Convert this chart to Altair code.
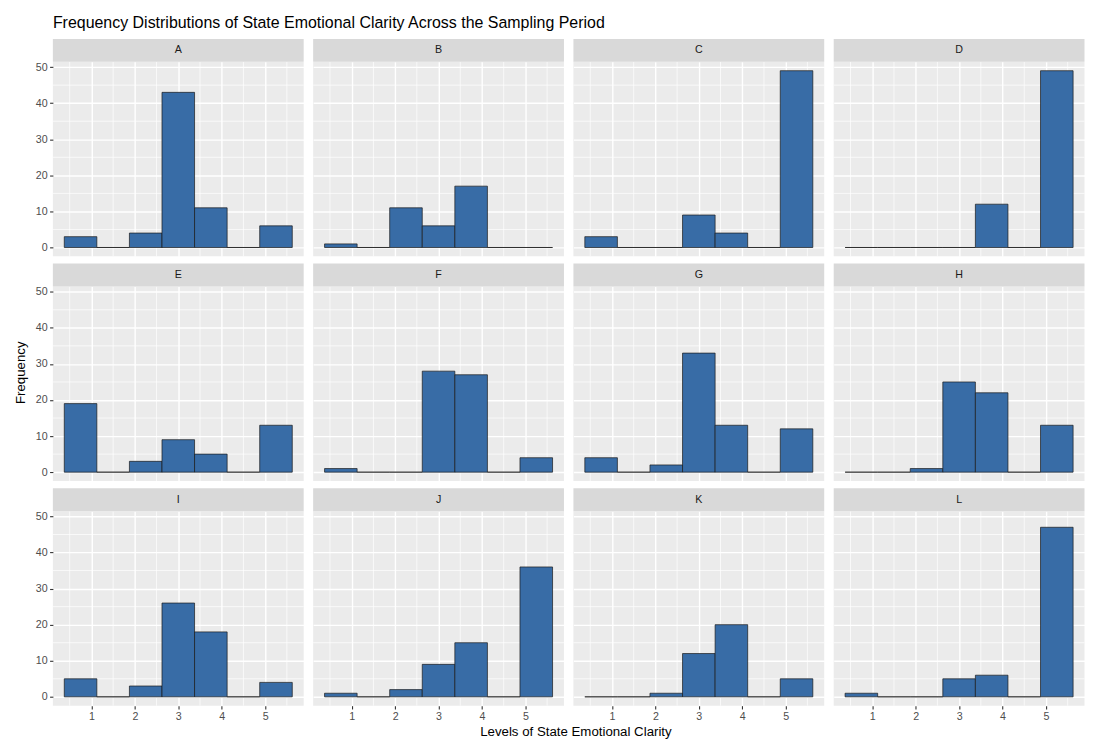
import altair as alt
import pandas as pd

# ---- data ----
panels = ["A", "B", "C", "D", "E", "F", "G", "H", "I", "J", "K", "L"]
bin_start = [0.375, 1.125, 1.875, 2.625, 3.375, 4.125, 4.875]
bin_end = [1.125, 1.875, 2.625, 3.375, 4.125, 4.875, 5.625]

counts_A = [3, 0, 4, 43, 11, 0, 6]
counts_B = [1, 0, 11, 6, 17, 0, 0]
counts_C = [3, 0, 0, 9, 4, 0, 49]
counts_D = [0, 0, 0, 0, 12, 0, 49]
counts_E = [19, 0, 3, 9, 5, 0, 13]
counts_F = [1, 0, 0, 28, 27, 0, 4]
counts_G = [4, 0, 2, 33, 13, 0, 12]
counts_H = [0, 0, 1, 25, 22, 0, 13]
counts_I = [5, 0, 3, 26, 18, 0, 4]
counts_J = [1, 0, 2, 9, 15, 0, 36]
counts_K = [0, 0, 1, 12, 20, 0, 5]
counts_L = [1, 0, 0, 5, 6, 0, 47]

counts = {
    "A": counts_A, "B": counts_B, "C": counts_C, "D": counts_D,
    "E": counts_E, "F": counts_F, "G": counts_G, "H": counts_H,
    "I": counts_I, "J": counts_J, "K": counts_K, "L": counts_L,
}

x_ticks = [1, 2, 3, 4, 5]
x_minor = [0.5, 1.5, 2.5, 3.5, 4.5, 5.5]
y_ticks = [0, 10, 20, 30, 40, 50]
y_minor = [5, 15, 25, 35, 45]
x_domain = [0.1125, 5.8875]
y_domain = [-2.45, 51.45]

title_text = "Frequency Distributions of State Emotional Clarity Across the Sampling Period"
x_title = "Levels of State Emotional Clarity"
y_title = "Frequency"

# ---- style ----
FONT = "Liberation Sans"
W = 251.5
PH = 195
SH = 23
GAP = 7.3
BAR_FILL = "#386CA6"
BAR_STROKE = "#1A1A1A"

x_scale = alt.Scale(domain=x_domain, nice=False, zero=False)
y_scale = alt.Scale(domain=y_domain, nice=False, zero=False)

minor_x_df = pd.DataFrame({"mx": x_minor})
minor_y_df = pd.DataFrame({"my": y_minor})


def make_cell(i, p):
    col = i % 4
    row = i // 4
    left = col == 0
    bottom = row == 2

    df = pd.DataFrame({"start": bin_start, "end": bin_end, "count": counts[p]})
    lab = pd.DataFrame({"panel": [p]})

    x_axis_kw = dict(values=x_ticks, grid=True, labels=bottom, ticks=bottom,
                     domain=False, title=None, labelFlush=False)
    if p == "J":
        x_axis_kw.update(title=x_title, titleX=263, titlePadding=3)
    y_axis_kw = dict(values=y_ticks, grid=True, labels=left, ticks=left,
                     domain=False, title=None)
    if p == "E":
        y_axis_kw.update(title=y_title, titleY=86, titlePadding=8)

    strip_bg = alt.Chart(lab).mark_rect(color="#D9D9D9").encode(
        x=alt.value(0), x2=alt.value(W),
        y=alt.value(-SH), y2=alt.value(0),
    )
    strip_txt = alt.Chart(lab).mark_text(
        font=FONT, fontSize=10.7, color="#1A1A1A", baseline="middle", align="center"
    ).encode(
        text="panel:N",
        x=alt.value(W / 2),
        y=alt.value(-SH / 2),
    )

    mx = alt.Chart(minor_x_df).mark_rule(color="white", strokeWidth=0.7).encode(
        x=alt.X("mx:Q", scale=x_scale, axis=alt.Axis(**x_axis_kw))
    )
    my = alt.Chart(minor_y_df).mark_rule(color="white", strokeWidth=0.7).encode(
        y=alt.Y("my:Q", scale=y_scale, axis=alt.Axis(**y_axis_kw))
    )

    bars = alt.Chart(df).mark_bar(
        fill=BAR_FILL, stroke=BAR_STROKE, strokeWidth=0.7
    ).encode(
        x=alt.X("start:Q", scale=x_scale, axis=alt.Axis(**x_axis_kw)),
        x2="end:Q",
        y=alt.Y("count:Q", scale=y_scale, axis=alt.Axis(**y_axis_kw), stack=None),
        y2=alt.datum(0),
    )

    return alt.layer(mx, my, bars, strip_bg, strip_txt).properties(width=W, height=PH)


cells = [make_cell(i, p) for i, p in enumerate(panels)]

chart = alt.concat(
    *cells, columns=4, spacing={"row": SH + GAP, "column": 9}, bounds="flush",
    title=alt.TitleParams(
        text=title_text, anchor="start", frame="group", fontSize=16,
        font=FONT, fontWeight="normal", color="black", offset=8,
    ),
).properties(
    padding={"left": 5, "top": 6, "right": 0, "bottom": 0},
    background="white",
).configure_view(
    fill="#EBEBEB", stroke=None
).configure_axis(
    domain=False,
    gridColor="white",
    gridWidth=1.4,
    tickColor="#333333",
    tickSize=3.3,
    tickWidth=1.1,
    labelColor="#4D4D4D",
    labelFontSize=10.7,
    labelFont=FONT,
    labelPadding=2.5,
    titleFont=FONT,
    titleFontSize=13.3,
    titleColor="black",
    titleFontWeight="normal",
)

chart.save("out.html", embed_options={"renderer": "svg", "actions": False})
